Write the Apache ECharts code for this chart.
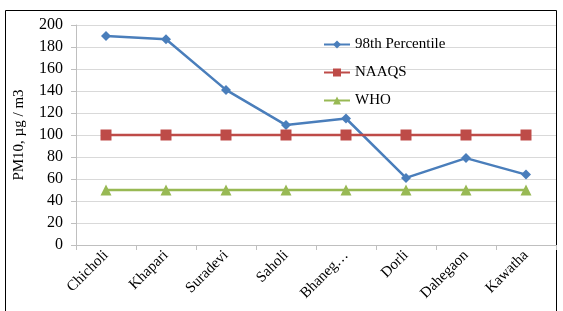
<!DOCTYPE html>
<html>
<head>
<meta charset="utf-8">
<script src="https://cdn.jsdelivr.net/npm/echarts@6/dist/echarts.min.js"></script>
<style>
  html, body { margin: 0; padding: 0; background: #fff; }
  #chart { width: 563px; height: 311px; }
</style>
</head>
<body>
<div id="chart"></div>
<script>
var sites = ['Chicholi', 'Khapari', 'Suradevi', 'Saholi', 'Bhaneg\u2026', 'Dorli', 'Dahegaon', 'Kawatha'];
var percentile98 = [190, 187, 141, 109, 115, 61, 79, 64];
var naaqs = [100, 100, 100, 100, 100, 100, 100, 100];
var who = [50, 50, 50, 50, 50, 50, 50, 50];

var font = '"Liberation Serif", "Times New Roman", serif';

var chart = echarts.init(document.getElementById('chart'));
chart.setOption({
  animation: false,
  textStyle: { fontFamily: font },
  graphic: [{
    type: 'rect',
    shape: { x: 5.5, y: 10.5, width: 551, height: 310 },
    style: { fill: 'none', stroke: '#000', lineWidth: 1 }
  }],
  grid: { left: 76, right: 7, top: 25, bottom: 66 },
  legend: {
    orient: 'vertical',
    left: 318,
    top: 32,
    itemGap: 13,
    itemWidth: 26,
    itemHeight: 10,
    textStyle: { fontFamily: font, fontSize: 15, color: '#000' },
    data: ['98th Percentile', 'NAAQS', 'WHO']
  },
  xAxis: {
    type: 'category',
    data: sites,
    boundaryGap: true,
    axisLine: { lineStyle: { color: '#bfbfbf' } },
    axisTick: { show: true, alignWithLabel: false, length: 5, lineStyle: { color: '#bfbfbf' } },
    axisLabel: { rotate: 45, color: '#000', fontSize: 15, fontFamily: font, margin: 8 }
  },
  yAxis: {
    type: 'value',
    min: 0,
    max: 200,
    interval: 20,
    name: 'PM10, \u00b5g / m3',
    nameLocation: 'middle',
    nameGap: 49,
    nameTextStyle: { color: '#000', fontSize: 15, fontFamily: font },
    axisLine: { show: true, lineStyle: { color: '#bfbfbf' } },
    axisTick: { show: true, length: 5, lineStyle: { color: '#bfbfbf' } },
    axisLabel: { color: '#000', fontSize: 16, fontFamily: font, margin: 13 },
    splitLine: { lineStyle: { color: '#d9d9d9' } }
  },
  series: [
    {
      name: '98th Percentile',
      type: 'line',
      data: percentile98,
      symbol: 'diamond',
      symbolSize: 10,
      itemStyle: { color: '#4a7ebb' },
      lineStyle: { color: '#4a7ebb', width: 2.5 }
    },
    {
      name: 'NAAQS',
      type: 'line',
      data: naaqs,
      symbol: 'rect',
      symbolSize: 11,
      itemStyle: { color: '#be4b48' },
      lineStyle: { color: '#be4b48', width: 2.5 }
    },
    {
      name: 'WHO',
      type: 'line',
      data: who,
      symbol: 'triangle',
      symbolSize: 11,
      itemStyle: { color: '#98b954' },
      lineStyle: { color: '#98b954', width: 2.5 }
    }
  ]
});
</script>
</body>
</html>
